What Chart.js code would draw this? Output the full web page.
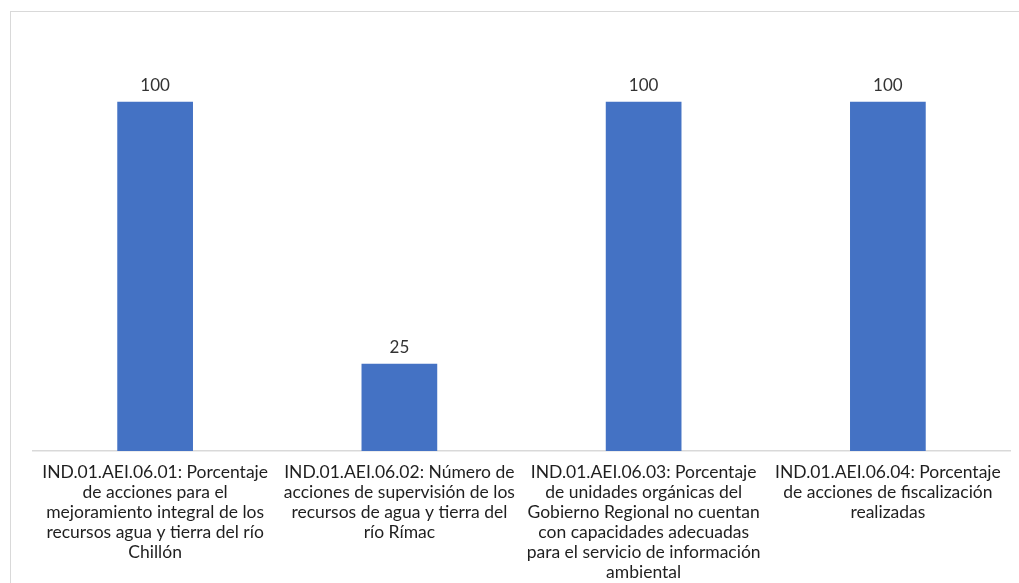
<!DOCTYPE html>
<html>
<head>
<meta charset="utf-8">
<script src="https://cdn.jsdelivr.net/npm/chart.js@4"></script>
<style>
  html, body { margin: 0; padding: 0; background: #fff; overflow: hidden; }
  .frame { position: absolute; left: 10px; top: 11px; width: 1030px; height: 600px; border: 1px solid #d9d9d9; }
  .wrap { position: absolute; left: 0; top: 0; width: 1019px; height: 583px; }
</style>
</head>
<body>
<div class="frame"></div>
<div class="wrap"><canvas id="chart" width="1019" height="583"></canvas></div>
<script>
const categories = [
  ["IND.01.AEI.06.01: Porcentaje", "de acciones para el", "mejoramiento integral de los", "recursos agua y tierra del río", "Chillón"],
  ["IND.01.AEI.06.02: Número de", "acciones de supervisión de los", "recursos de agua y tierra del", "río Rímac"],
  ["IND.01.AEI.06.03: Porcentaje", "de unidades orgánicas del", "Gobierno Regional no cuentan", "con capacidades adecuadas", "para el servicio de información", "ambiental"],
  ["IND.01.AEI.06.04: Porcentaje", "de acciones de fiscalización", "realizadas"]
];
const values = [100, 25, 100, 100];

const FONT = "Lato, 'Noto Sans', sans-serif";

// draws the number over each bar
const barLabels = {
  id: 'barLabels',
  afterDatasetsDraw(chart) {
    const ctx = chart.ctx;
    const meta = chart.getDatasetMeta(0);
    ctx.save();
    ctx.font = "17px " + FONT;
    ctx.fillStyle = '#333333';
    ctx.textAlign = 'center';
    ctx.textBaseline = 'bottom';
    meta.data.forEach((bar, i) => {
      ctx.fillText(values[i], bar.x, bar.y - 8);
    });
    ctx.restore();
  }
};

new Chart(document.getElementById('chart').getContext('2d'), {
  type: 'bar',
  data: {
    labels: categories,
    datasets: [{
      data: values,
      backgroundColor: '#4472C4',
      categoryPercentage: 1,
      barPercentage: 0.31
    }]
  },
  options: {
    responsive: false,
    animation: false,
    layout: { padding: { left: 33, right: 9, top: 32, bottom: 0 } },
    plugins: { legend: { display: false }, tooltip: { enabled: false } },
    scales: {
      x: {
        grid: { display: false },
        border: { display: true, color: '#d9d9d9', width: 1.5 },
        ticks: {
          maxRotation: 0,
          autoSkip: false,
          padding: 3,
          color: '#1f1f1f',
          font: { family: FONT, size: 17.5, lineHeight: '20px' }
        },
        afterFit(scale) { scale.height = 132; }
      },
      y: {
        display: false,
        min: 0,
        max: 120
      }
    }
  },
  plugins: [barLabels]
});
</script>
</body>
</html>
